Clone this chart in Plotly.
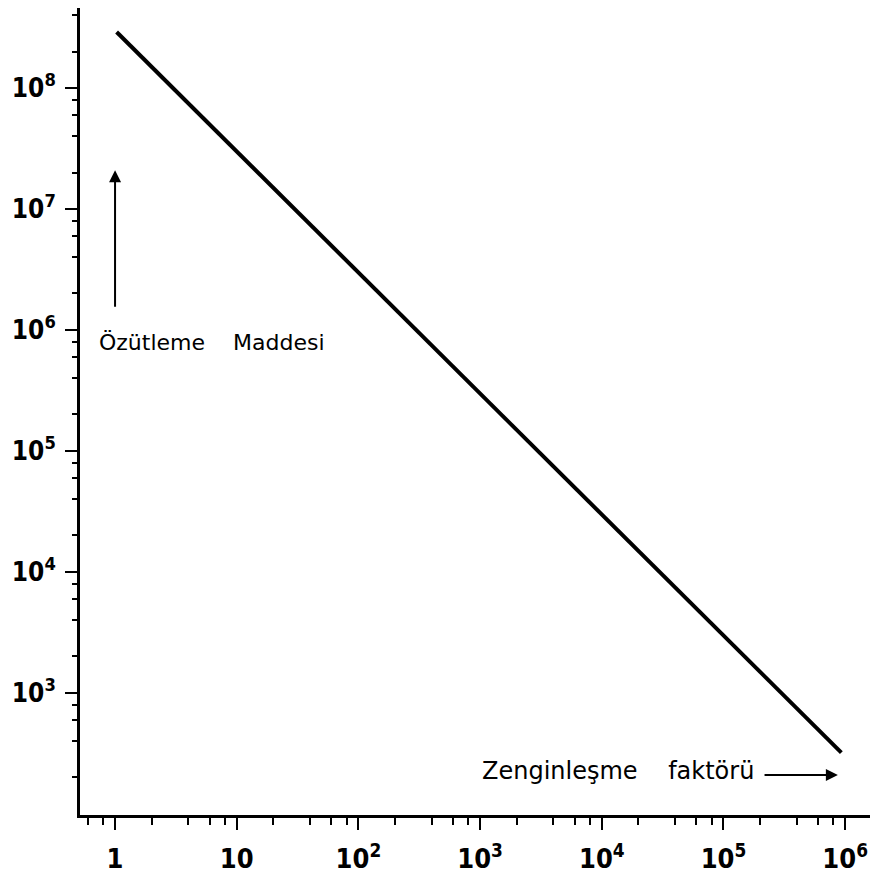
import plotly.graph_objects as go

# Data (log-log straight line)
enrichment_factor = [1.03, 9.3e5]
extract_amount = [2.9e8, 320]

x_tick_vals = [1, 10, 100, 1000, 10000, 100000, 1000000]
x_tick_text = ["1", "10", "10<sup>2</sup>", "10<sup>3</sup>", "10<sup>4</sup>", "10<sup>5</sup>", "10<sup>6</sup>"]
y_tick_vals = [1e3, 1e4, 1e5, 1e6, 1e7, 1e8]
y_tick_text = ["10<sup>3</sup>", "10<sup>4</sup>", "10<sup>5</sup>", "10<sup>6</sup>", "10<sup>7</sup>", "10<sup>8</sup>"]

minor_mults = [2, 4, 6, 8]
x_minor = [m * 10 ** k for k in range(-1, 7) for m in minor_mults]
y_minor = [m * 10 ** k for k in range(2, 9) for m in minor_mults]

TICK_FONT = "Liberation Sans Narrow, DejaVu Sans Condensed, Liberation Sans, sans-serif"
TEXT_FONT = "DejaVu Sans, sans-serif"

fig = go.Figure()
fig.add_trace(go.Scatter(
    x=enrichment_factor, y=extract_amount, mode="lines",
    line=dict(color="black", width=4), showlegend=False, hoverinfo="skip"))

fig.update_layout(
    width=862, height=870,
    margin=dict(l=72, r=0, t=0, b=63, autoexpand=False),
    paper_bgcolor="white", plot_bgcolor="white",
    font=dict(family=TEXT_FONT, color="black", size=22),
    xaxis=dict(
        type="log", range=[-0.288, 6.204],
        showgrid=False, zeroline=False,
        showline=True, linecolor="black", linewidth=3, mirror=True,
        ticks="outside", ticklen=12, tickwidth=2, tickcolor="black",
        tickmode="array", tickvals=x_tick_vals, ticktext=x_tick_text,
        ticklabelstandoff=6,
        tickfont=dict(family=TICK_FONT, size=27, color="black", weight="bold"),
        minor=dict(ticks="outside", ticklen=7, tickwidth=2, tickcolor="black",
                   tickmode="array", tickvals=x_minor, showgrid=False),
    ),
    yaxis=dict(
        type="log", range=[1.99, 8.661],
        showgrid=False, zeroline=False,
        showline=True, linecolor="black", linewidth=3, mirror=False,
        ticks="outside", ticklen=12, tickwidth=2, tickcolor="black",
        tickmode="array", tickvals=y_tick_vals, ticktext=y_tick_text,
        ticklabelstandoff=4,
        tickfont=dict(family=TICK_FONT, size=26, color="black", weight="bold"),
        minor=dict(ticks="outside", ticklen=5, tickwidth=2, tickcolor="black",
                   tickmode="array", tickvals=y_minor, showgrid=False),
    ),
)

# Upward arrow and its label
fig.add_annotation(
    x=0, y=7.32, ax=0, ay=6.18, xref="x", yref="y", axref="x", ayref="y",
    text="", showarrow=True, arrowhead=2, arrowsize=1.2, arrowwidth=2, arrowcolor="black")
fig.add_annotation(
    x=-0.148, y=5.90, xref="x", yref="y", xanchor="left", yanchor="middle",
    text="Özütleme    Maddesi", showarrow=False,
    font=dict(family=TEXT_FONT, size=22, color="black"))

# Rightward arrow and its label
fig.add_annotation(
    x=5.94, y=2.32, ax=5.325, ay=2.32, xref="x", yref="y", axref="x", ayref="y",
    text="", showarrow=True, arrowhead=2, arrowsize=1.2, arrowwidth=2, arrowcolor="black")
fig.add_annotation(
    x=3.0, y=2.35, xref="x", yref="y", xanchor="left", yanchor="middle",
    text="Zenginleşme    faktörü", showarrow=False,
    font=dict(family=TEXT_FONT, size=24, color="black"))

fig.write_html("out.html")
